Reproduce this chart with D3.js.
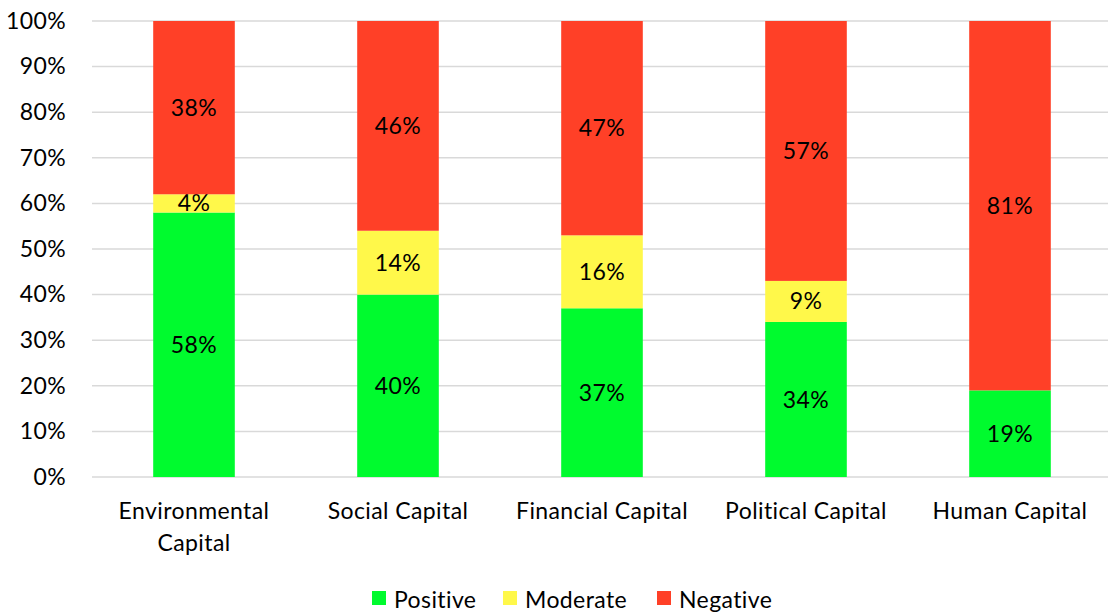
<!DOCTYPE html>
<html>
<head>
<meta charset="utf-8">
<script src="https://cdn.jsdelivr.net/npm/d3@7"></script>
<style>
  body { margin: 0; background: #fff; }
  svg text { font-family: Lato, "Open Sans", sans-serif; fill: #000; letter-spacing: 0.4px; }
</style>
</head>
<body>
<svg width="1108" height="613"></svg>
<script>
const categories = [
  ['Environmental', 'Capital'],
  ['Social Capital'],
  ['Financial Capital'],
  ['Political Capital'],
  ['Human Capital'],
];
const seriesNames = ['Positive', 'Moderate', 'Negative'];
const positive = [58, 40, 37, 34, 19];
const moderate = [4, 14, 16, 9, 0];
const negative = [38, 46, 47, 57, 81];
const yTicks = [0, 10, 20, 30, 40, 50, 60, 70, 80, 90, 100];
const colors = ['#00FB2E', '#FFF84A', '#FF4027'];
const fontSize = 23;

const svg = d3.select('svg');
const margin = { top: 21, right: 0, bottom: 136, left: 92 };
const width = +svg.attr('width') - margin.left - margin.right;
const height = +svg.attr('height') - margin.top - margin.bottom;

const rows = categories.map((c, i) => ({
  key: c.join(' '),
  lines: c,
  Positive: positive[i],
  Moderate: moderate[i],
  Negative: negative[i],
}));

const x = d3
  .scaleBand()
  .domain(rows.map(d => d.key))
  .range([0, width + 4])
  .paddingInner(0.6)
  .paddingOuter(0.3);
const y = d3.scaleLinear().domain([0, 100]).range([height, 0]);

const g = svg
  .append('g')
  .attr('transform', `translate(${margin.left},${margin.top})`);

// gridlines
g
  .append('g')
  .selectAll('line')
  .data(yTicks)
  .join('line')
  .attr('x1', 0)
  .attr('x2', width)
  .attr('y1', d => y(d))
  .attr('y2', d => y(d))
  .attr('stroke', '#d9d9d9')
  .attr('stroke-width', 1.5);

// y axis labels
const yAxis = g
  .append('g')
  .call(d3.axisLeft(y).tickValues(yTicks).tickFormat(d => `${d}%`).tickSize(0).tickPadding(26));
yAxis.select('.domain').remove();
yAxis.selectAll('text').attr('font-size', fontSize).attr('font-family', null);

const stack = d3.stack().keys(seriesNames);
const layers = stack(rows);

const layer = g
  .selectAll('.layer')
  .data(layers)
  .join('g')
  .attr('class', 'layer')
  .attr('fill', (d, i) => colors[i]);

layer
  .selectAll('rect')
  .data(d => d)
  .join('rect')
  .attr('x', d => x(d.data.key))
  .attr('width', x.bandwidth())
  .attr('y', d => y(d[1]))
  .attr('height', d => y(d[0]) - y(d[1]));

layer
  .selectAll('text')
  .data(d => d.filter(s => s[1] - s[0] > 0))
  .join('text')
  .attr('x', d => x(d.data.key) + x.bandwidth() / 2)
  .attr('y', d => y((d[0] + d[1]) / 2))
  .attr('dy', '0.35em')
  .attr('text-anchor', 'middle')
  .attr('font-size', fontSize)
  .text(d => `${d[1] - d[0]}%`);

// x labels
const xl = g
  .append('g')
  .selectAll('text')
  .data(rows)
  .join('text')
  .attr('x', d => x(d.key) + x.bandwidth() / 2)
  .attr('y', height + 42)
  .attr('text-anchor', 'middle')
  .attr('font-size', fontSize);
xl
  .selectAll('tspan')
  .data(d => d.lines)
  .join('tspan')
  .attr('x', function () { return this.parentNode.getAttribute('x'); })
  .attr('dy', (d, i) => (i === 0 ? 0 : 32))
  .text(d => d);

// legend
const legendX = [372, 503, 657];
const legend = svg
  .append('g')
  .selectAll('g')
  .data(seriesNames)
  .join('g')
  .attr('transform', (d, i) => `translate(${legendX[i]},591)`);
legend
  .append('rect')
  .attr('width', 14)
  .attr('height', 14)
  .attr('fill', (d, i) => colors[i]);
legend
  .append('text')
  .attr('x', 22)
  .attr('y', 17)
  .attr('font-size', fontSize)
  .text(d => d);
</script>
</body>
</html>
